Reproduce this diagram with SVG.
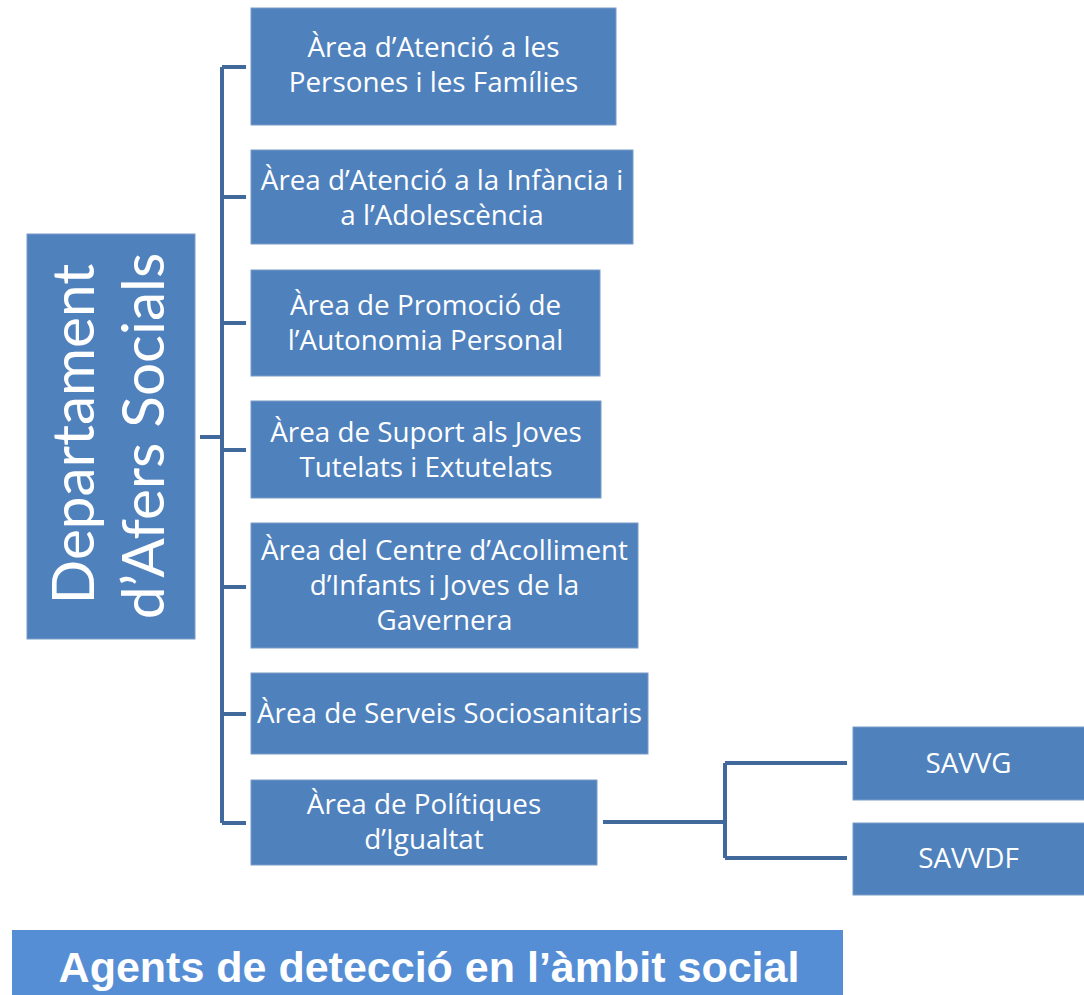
<svg xmlns="http://www.w3.org/2000/svg" width="1084" height="995" viewBox="0 0 1084 995">
<style>
.box{fill:#4F81BD;stroke:#7A9CC8;stroke-width:1}
.t{font-family:"Open Sans",Lato,sans-serif;font-size:27.8px;fill:#fff;text-anchor:middle}
.big{font-family:Lato,"Open Sans",sans-serif;font-size:58.5px;fill:#fff;text-anchor:middle}
.ln{stroke:#41699B;stroke-width:4;fill:none}
</style>
<rect x="0" y="0" width="1084" height="995" fill="#fff"/>
<g id="connectors">
<path class="ln" d="M200 437H222M222 67V823M222 67H246M222 197H246M222 323H246M222 450H246M222 587H246M222 714H246M222 823H246"/>
<path class="ln" d="M603 822H725M725 763V858M725 763H847M725 858H847"/>
</g>
<g id="dept">
<rect class="box" x="27" y="234" width="168" height="405"/>
<text class="big" transform="translate(94,434) rotate(-90)" x="0" y="0">Departament</text>
<text class="big" transform="translate(164,436) rotate(-90)" x="0" y="0">d’Afers Socials</text>
</g>
<g id="n1">
<rect class="box" x="251" y="8" width="365" height="117"/>
<text class="t" x="433.5" y="57">Àrea d’Atenció a les</text>
<text class="t" x="433.5" y="92">Persones i les Famílies</text>
</g>
<g id="n2">
<rect class="box" x="251" y="150" width="382" height="94"/>
<text class="t" x="442" y="189.5">Àrea d’Atenció a la Infància i</text>
<text class="t" x="442" y="224.5">a l’Adolescència</text>
</g>
<g id="n3">
<rect class="box" x="251" y="270" width="349" height="106"/>
<text class="t" x="425.5" y="314.5">Àrea de Promoció de</text>
<text class="t" x="425.5" y="349.5">l’Autonomia Personal</text>
</g>
<g id="n4">
<rect class="box" x="251" y="401" width="350" height="97"/>
<text class="t" x="426" y="441.5">Àrea de Suport als Joves</text>
<text class="t" x="426" y="476.5">Tutelats i Extutelats</text>
</g>
<g id="n5">
<rect class="box" x="251" y="523" width="387" height="125"/>
<text class="t" x="444.5" y="560">Àrea del Centre d’Acolliment</text>
<text class="t" x="444.5" y="595">d’Infants i Joves de la</text>
<text class="t" x="444.5" y="630">Gavernera</text>
</g>
<g id="n6">
<rect class="box" x="251" y="673" width="397" height="81"/>
<text class="t" x="449.5" y="723">Àrea de Serveis Sociosanitaris</text>
</g>
<g id="n7">
<rect class="box" x="251" y="780" width="346" height="85"/>
<text class="t" x="424" y="814">Àrea de Polítiques</text>
<text class="t" x="424" y="849">d’Igualtat</text>
</g>
<g id="savvg">
<rect class="box" x="853" y="727" width="235" height="73"/>
<text class="t" x="968.5" y="773">SAVVG</text>
</g>
<g id="savvdf">
<rect class="box" x="853" y="823" width="235" height="72"/>
<text class="t" x="968.5" y="868">SAVVDF</text>
</g>
<g id="banner">
<rect x="12" y="930" width="831" height="70" fill="#558ED5"/>
<text x="429" y="982" font-family="'Liberation Sans',Arial,sans-serif" font-weight="bold" font-size="43" fill="#fff" text-anchor="middle">Agents de detecció en l’àmbit social</text>
</g>
</svg>
